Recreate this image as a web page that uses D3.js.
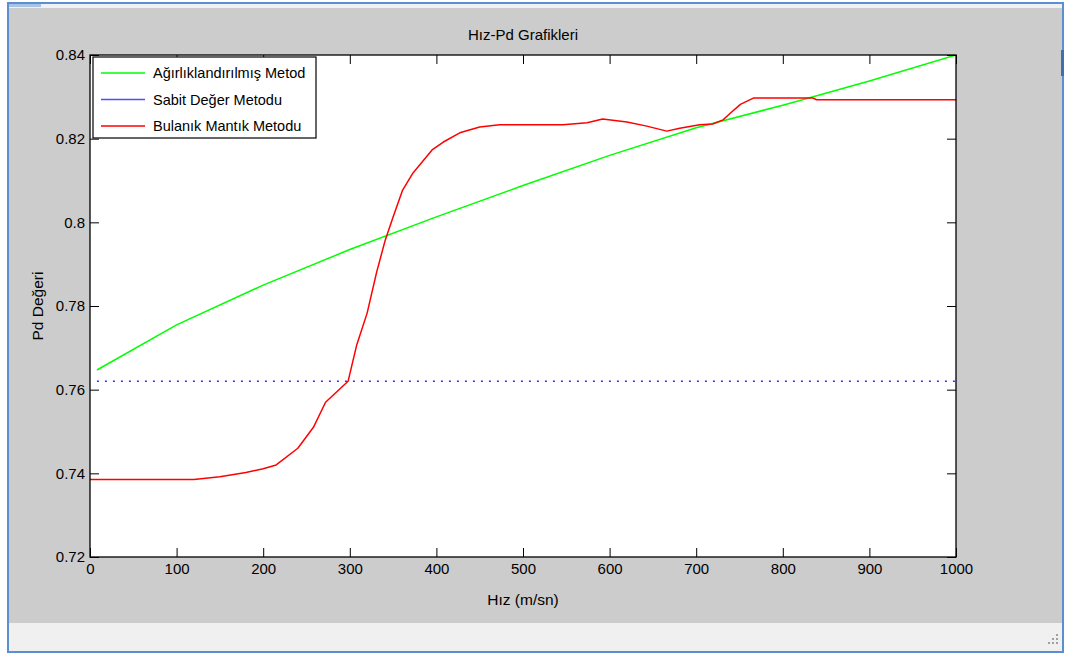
<!DOCTYPE html>
<html>
<head>
<meta charset="utf-8">
<script src="https://cdn.jsdelivr.net/npm/d3@7"></script>
<style>
  html, body { margin: 0; padding: 0; background: #ffffff; }
  svg { display: block; font-family: "Liberation Sans", Arial, sans-serif; }
</style>
</head>
<body>
<svg id="chart" width="1070" height="655"></svg>
<script>
// Hız-Pd curves for the three methods
const title = "Hız-Pd Grafikleri";
const xLabel = "Hız (m/sn)";
const yLabel = "Pd Değeri";
const seriesNames = ["Ağırlıklandırılmış Metod", "Sabit Değer Metodu", "Bulanık Mantık Metodu"];
const seriesColors = ["#00ff00", "#0000ff", "#ff0000"];

const xTicks = [0, 100, 200, 300, 400, 500, 600, 700, 800, 900, 1000];
const yTicks = [0.72, 0.74, 0.76, 0.78, 0.8, 0.82, 0.84];

// Ağırlıklandırılmış Metod
const greenX = [8, 100, 200, 300, 400, 500, 600, 700, 800, 900, 1000];
const greenY = [0.7647, 0.7755, 0.785, 0.7935, 0.8013, 0.8088, 0.8160, 0.8226, 0.8280, 0.8338, 0.840];

// Sabit Değer Metodu
const blueX = [8, 1000];
const blueY = [0.762, 0.762];

// Bulanık Mantık Metodu
const redX = [0, 120, 150, 180, 200, 215, 240, 258, 272, 298, 308, 320, 331, 341, 350, 361, 373, 395, 408, 427, 450, 473, 546, 574, 592, 620, 643, 666, 681, 704, 719, 731, 739, 751, 766, 835, 839, 1000];
const redY = [0.7385, 0.7385, 0.7392, 0.7402, 0.7411, 0.7420, 0.7460, 0.7510, 0.7570, 0.7620, 0.7707, 0.7783, 0.7881, 0.7958, 0.8013, 0.8077, 0.8118, 0.8173, 0.8192, 0.8214, 0.8228, 0.8233, 0.8233, 0.8238, 0.8247, 0.8240, 0.8230, 0.8218, 0.8225, 0.8233, 0.8235, 0.8245, 0.8260, 0.8282, 0.8297, 0.8297, 0.8293, 0.8293];

const svg = d3.select("#chart");

// Window frame
svg.append("rect").attr("x", 0).attr("y", 0).attr("width", 1070).attr("height", 655).attr("fill", "#ffffff");
svg.append("rect").attr("x", 8).attr("y", 3).attr("width", 1055).attr("height", 649)
  .attr("fill", "#cccccc").attr("stroke", "#5b8fd0").attr("stroke-width", 2);
svg.append("rect").attr("x", 9).attr("y", 4).attr("width", 1053).attr("height", 4).attr("fill", "#eef1f5");
svg.append("rect").attr("x", 9).attr("y", 4).attr("width", 32).attr("height", 3).attr("fill", "#a9c3e6");
svg.append("rect").attr("x", 9).attr("y", 623).attr("width", 1053).attr("height", 28).attr("fill", "#f0f0f0");
svg.append("rect").attr("x", 1061).attr("y", 50).attr("width", 3).attr("height", 26).attr("fill", "#3f6fae");
// resize grip
[[1056, 634], [1052, 638], [1056, 638], [1048, 642], [1052, 642], [1056, 642]].forEach(([gx, gy]) => {
  svg.append("rect").attr("x", gx).attr("y", gy).attr("width", 2).attr("height", 2).attr("fill", "#a0a0a0");
});

const m = { left: 90, right: 956, top: 55, bottom: 557 };
const x = d3.scaleLinear().domain([0, 1000]).range([m.left, m.right]);
const y = d3.scaleLinear().domain([0.72, 0.84]).range([m.bottom, m.top]);

// Axes background
svg.append("rect").attr("x", m.left).attr("y", m.top)
  .attr("width", m.right - m.left).attr("height", m.bottom - m.top).attr("fill", "#ffffff");

svg.append("clipPath").attr("id", "plotclip").append("rect")
  .attr("x", m.left).attr("y", m.top).attr("width", m.right - m.left).attr("height", m.bottom - m.top);

const plot = svg.append("g").attr("clip-path", "url(#plotclip)");
const line = d3.line().x(d => x(d[0])).y(d => y(d[1]));

const green = greenX.map((v, i) => [v, greenY[i]]);
const blue = blueX.map((v, i) => [v, blueY[i]]);
const red = redX.map((v, i) => [v, redY[i]]);

plot.append("path").datum(green).attr("d", line).attr("fill", "none")
  .attr("stroke", seriesColors[0]).attr("stroke-width", 1.5);
plot.append("path").datum(blue).attr("d", line).attr("fill", "none")
  .attr("stroke", "#3333ff").attr("stroke-width", 1.5).attr("stroke-dasharray", "2,6");
plot.append("path").datum(red).attr("d", line).attr("fill", "none")
  .attr("stroke", seriesColors[2]).attr("stroke-width", 1.5).attr("stroke-linejoin", "round");

// Axes with inward ticks on all four sides
const tickLen = 9;
const fmtTick = d => String(+d.toFixed(2));
const axB = svg.append("g").attr("transform", `translate(0,${m.bottom})`)
  .call(d3.axisBottom(x).tickValues(xTicks).tickSizeInner(-tickLen).tickSizeOuter(0).tickPadding(5).tickFormat(fmtTick));
const axT = svg.append("g").attr("transform", `translate(0,${m.top})`)
  .call(d3.axisTop(x).tickValues(xTicks).tickSizeInner(-tickLen).tickSizeOuter(0).tickFormat(""));
const axL = svg.append("g").attr("transform", `translate(${m.left},0)`)
  .call(d3.axisLeft(y).tickValues(yTicks).tickSizeInner(-tickLen).tickSizeOuter(0).tickPadding(5).tickFormat(fmtTick));
const axR = svg.append("g").attr("transform", `translate(${m.right},0)`)
  .call(d3.axisRight(y).tickValues(yTicks).tickSizeInner(-tickLen).tickSizeOuter(0).tickFormat(""));

[axB, axT, axL, axR].forEach(g => {
  g.selectAll(".domain").remove();
  g.selectAll("line").attr("stroke", "#000").attr("stroke-width", 1);
  g.selectAll("text").attr("fill", "#000").attr("font-size", 15)
    .attr("font-family", "'Liberation Sans', Arial, sans-serif");
});
axB.selectAll("text").attr("dy", "0.8em");

// Axes box
svg.append("rect").attr("x", m.left).attr("y", m.top)
  .attr("width", m.right - m.left).attr("height", m.bottom - m.top)
  .attr("fill", "none").attr("stroke", "#000").attr("stroke-width", 1.3);

// Title and axis labels
svg.append("text").attr("x", (m.left + m.right) / 2).attr("y", 40)
  .attr("text-anchor", "middle").attr("font-size", 15).text(title);
svg.append("text").attr("x", (m.left + m.right) / 2).attr("y", 605)
  .attr("text-anchor", "middle").attr("font-size", 15.5).text(xLabel);
svg.append("text").attr("transform", `translate(43,${(m.top + m.bottom) / 2}) rotate(-90)`)
  .attr("text-anchor", "middle").attr("font-size", 15.5).text(yLabel);

// Legend
const lg = svg.append("g").attr("transform", "translate(93,57)");
lg.append("rect").attr("width", 223).attr("height", 81).attr("fill", "#ffffff")
  .attr("stroke", "#000").attr("stroke-width", 1.2);
seriesNames.forEach((name, i) => {
  const ry = 16 + i * 26.5;
  lg.append("line").attr("x1", 8).attr("x2", 52).attr("y1", ry).attr("y2", ry)
    .attr("stroke", i === 1 ? "#4d4dff" : seriesColors[i]).attr("stroke-width", 1.4);
  lg.append("text").attr("x", 60).attr("y", ry).attr("dy", "0.35em")
    .attr("font-size", 14.5).attr("fill", "#000").text(name);
});
</script>
</body>
</html>
